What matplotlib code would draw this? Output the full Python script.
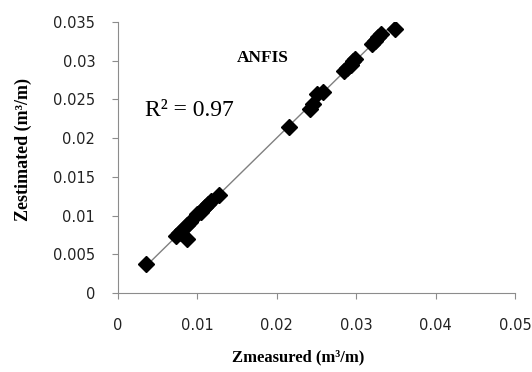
import numpy as np
import matplotlib.pyplot as plt

z_measured = [0.0035, 0.0073, 0.0077, 0.0080, 0.0087, 0.0090, 0.0087,
              0.0100, 0.0104, 0.0107, 0.0110, 0.0113, 0.0117, 0.0127,
              0.0215, 0.0242, 0.0246, 0.0251, 0.0258,
              0.0285, 0.0289, 0.0293, 0.0296, 0.0299,
              0.0320, 0.0324, 0.0327, 0.0331, 0.0349]
z_estimated = [0.0038, 0.0074, 0.0077, 0.0081, 0.0088, 0.0092, 0.0070,
               0.0102, 0.0105, 0.0108, 0.0111, 0.0115, 0.0119, 0.0127,
               0.0214, 0.0238, 0.0244, 0.0257, 0.0259,
               0.0287, 0.0291, 0.0295, 0.0299, 0.0302,
               0.0322, 0.0326, 0.0330, 0.0334, 0.0341]
x_ticks = [0, 0.01, 0.02, 0.03, 0.04, 0.05]
x_ticklabels = ['0', '0.01', '0.02', '0.03', '0.04', '0.05']
y_ticks = [0, 0.005, 0.01, 0.015, 0.02, 0.025, 0.03, 0.035]
y_ticklabels = ['0', '0.005', '0.01', '0.015', '0.02', '0.025', '0.03', '0.035']

x = np.array(z_measured)
y = np.array(z_estimated)

fig = plt.figure(figsize=(5.32, 3.72), dpi=100)
ax = fig.add_axes([0.222, 0.212, 0.746, 0.729])

# linear trendline over the data range
slope, icpt = np.polyfit(x, y, 1)
xl = np.array([x.min(), x.max()])
ax.plot(xl, slope * xl + icpt, color='#808080', lw=1, zorder=1)
ax.plot(x, y, 'D', color='black', markersize=8, zorder=2)

ax.set_xlim(0, 0.05)
ax.set_ylim(0, 0.035)
ax.set_xticks(x_ticks)
ax.set_xticklabels(x_ticklabels)
ax.set_yticks(y_ticks)
ax.set_yticklabels(y_ticklabels)

for s in ['top', 'right']:
    ax.spines[s].set_visible(False)
for s in ['left', 'bottom']:
    ax.spines[s].set_color('#8c8c8c')
ax.tick_params(direction='out', length=4, color='#8c8c8c', labelsize=10.5,
               labelcolor='#222222')
ax.tick_params(axis='x', pad=14)
ax.tick_params(axis='y', pad=12.5)

ax.set_xlabel('Zmeasured (m³/m)', family='Liberation Serif',
              fontweight='bold', fontsize=12)
ax.xaxis.set_label_coords(0.453, -0.207)
ax.set_ylabel('Zestimated (m³/m)', family='Liberation Serif',
              fontweight='bold', fontsize=13)
ax.yaxis.set_label_coords(-0.217, 0.528)

ax.text(0.0182, 0.0304, 'ANFIS', family='Liberation Serif',
        fontweight='bold', fontsize=12.5, ha='center', va='center')
ax.text(0.0034, 0.0236, 'R² = 0.97', family='Liberation Serif',
        fontsize=17, ha='left', va='center')

fig.savefig('out.png', dpi=100)
